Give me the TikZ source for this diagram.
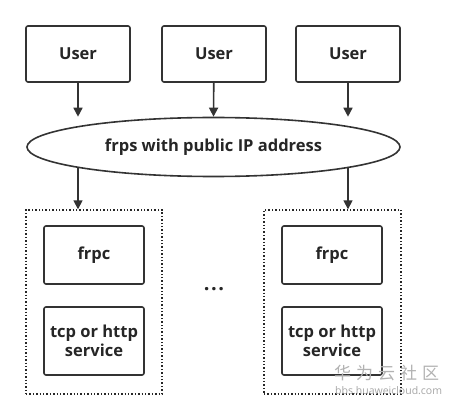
\documentclass[tikz,border=0pt]{standalone}
\usepackage{fontspec}
\setmainfont{Open Sans}
\newfontfamily\cjkfont{Noto Sans CJK SC}
\usetikzlibrary{shapes.geometric,arrows.meta}
\begin{document}
\begin{tikzpicture}[x=1pt,y=-1pt,
  lbl/.style={font=\bfseries\fontsize{16.5}{19}\selectfont,text=black!85},
  box/.style={draw=black!80,line width=1.6pt,rounded corners=2pt,minimum width=104pt,minimum height=56pt,lbl,inner sep=0pt,align=center},
  inbox/.style={box,minimum width=100pt},
  container/.style={draw=black!85,line width=1.4pt,dotted},
  arr/.style={draw=black!80,line width=1.6pt,-{Triangle[length=9pt,width=9pt]}}]
\useasboundingbox[fill=white] (0,0) rectangle (456,404);
\node[box] (u1) at (78,54) {User};
\node[box] (u2) at (214,54) {User};
\node[box] (u3) at (348,54) {User};
\node[draw=black!80,line width=1.6pt,ellipse,minimum width=373pt,minimum height=59pt,inner sep=0pt,lbl] (s) at (213.5,147) {frps with public IP address};
\draw[arr] (u1) -- (u1 |- s.north);
\draw[arr] (u2) -- (s.north);
\draw[arr] (u3) -- (u3 |- s.north);
\node[container,minimum width=136pt,minimum height=184pt,inner sep=0pt] (c1) at (94,302) {};
\node[container,minimum width=137pt,minimum height=184pt,inner sep=0pt] (c2) at (332.5,302) {};
\coordinate (o1) at (78,168);
\coordinate (o2) at (348,168);
\draw[arr] (o1) -- (o1 |- c1.north);
\draw[arr] (o2) -- (o2 |- c2.north);
\node[inbox,minimum height=58pt] (f1) at (94,255) {frpc};
\node[inbox,minimum height=68pt] (t1) at (94,341) {tcp or http\\service};
\node[inbox,minimum height=58pt] (f2) at (332,255) {frpc};
\node[inbox,minimum height=68pt] (t2) at (332,341) {tcp or http\\service};
\node[lbl,font=\bfseries\fontsize{20}{20}\selectfont] (dots) at (214,289) {.\kern1.5pt.\kern1.5pt.};
\node[text=black!30,font=\cjkfont\fontsize{17}{17}\selectfont,anchor=west,inner sep=0pt] (wm1) at (334,373) {华\hspace{5pt}为\hspace{5pt}云\hspace{5pt}社\hspace{5pt}区};
\node[text=black!35,font=\fontsize{10.5}{11}\selectfont,anchor=west,inner sep=0pt] (wm2) at (335,391) {bbs.huaweicloud.com};
\end{tikzpicture}
\end{document}
